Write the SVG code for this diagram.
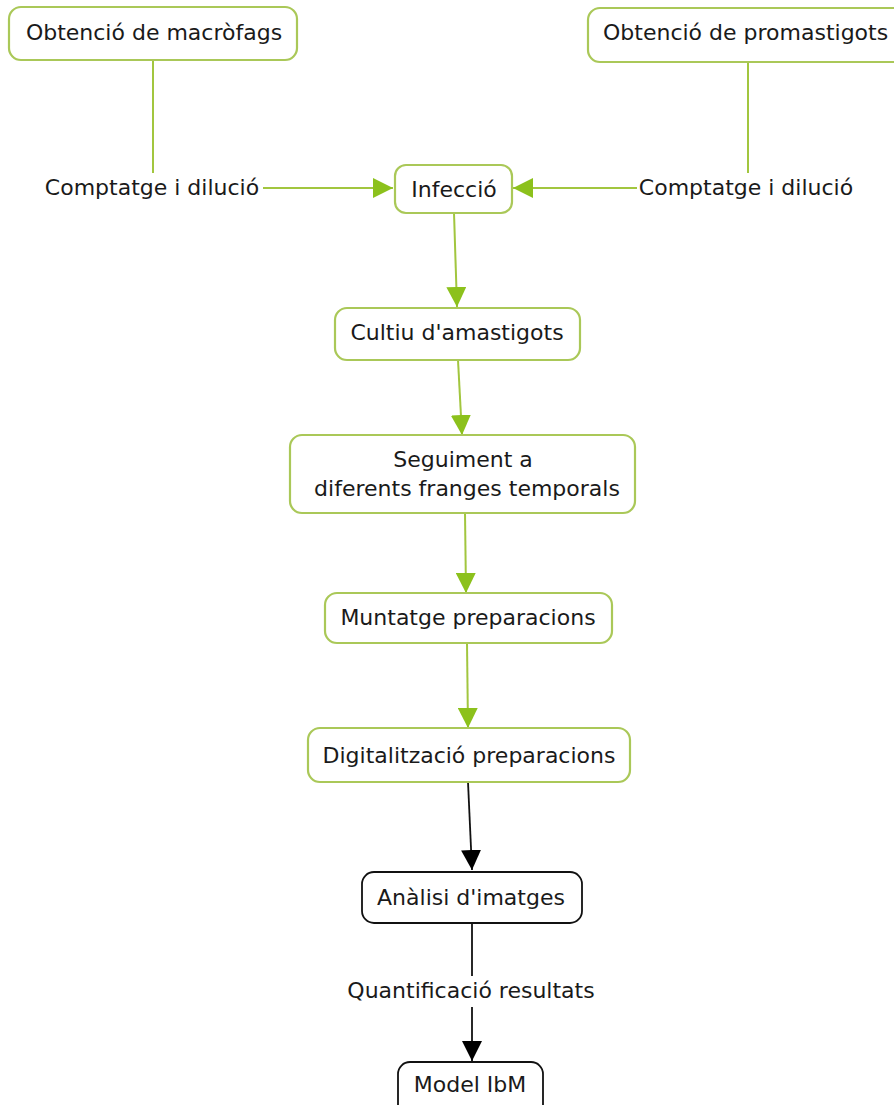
<svg xmlns="http://www.w3.org/2000/svg" width="894" height="1105" viewBox="0 0 894 1105">
<style>
.g rect{fill:#fff;stroke:#aac858;stroke-width:2.2}
.b rect{fill:#fff;stroke:#111;stroke-width:1.8}
text{font-family:"DejaVu Sans",Verdana,sans-serif;font-size:22px;fill:#1a1a1a}
.c{text-anchor:middle}
.gl{stroke:#a2c63f;stroke-width:2;fill:none}
.bl{stroke:#111;stroke-width:1.8;fill:none}
</style>
<defs>
<marker id="ag" markerUnits="userSpaceOnUse" markerWidth="20" markerHeight="20" viewBox="0 0 20 20" refX="20" refY="10" orient="auto">
<path d="M0,0 L20,10 L0,20 z" fill="#8cc11c"/>
</marker>
<marker id="ab" markerUnits="userSpaceOnUse" markerWidth="20" markerHeight="20" viewBox="0 0 20 20" refX="20" refY="10" orient="auto">
<path d="M0,0 L20,10 L0,20 z" fill="#000"/>
</marker>
</defs>
<rect width="894" height="1105" fill="#fff"/>
<g id="connectors">
<line class="gl" x1="153" y1="60" x2="153" y2="173"/>
<line class="gl" x1="748" y1="62" x2="748" y2="173"/>
<line class="gl" x1="263" y1="188" x2="393" y2="188" marker-end="url(#ag)"/>
<line class="gl" x1="637" y1="188" x2="513" y2="188" marker-end="url(#ag)"/>
<line class="gl" x1="454" y1="213" x2="457" y2="307" marker-end="url(#ag)"/>
<line class="gl" x1="458" y1="360" x2="462" y2="435" marker-end="url(#ag)"/>
<line class="gl" x1="465" y1="513" x2="466" y2="593" marker-end="url(#ag)"/>
<line class="gl" x1="467" y1="643" x2="468" y2="728" marker-end="url(#ag)"/>
<line class="bl" x1="468" y1="782" x2="472" y2="870" marker-end="url(#ab)"/>
<line class="bl" x1="472" y1="923" x2="472" y2="976"/>
<line class="bl" x1="472" y1="1007" x2="472" y2="1061" marker-end="url(#ab)"/>
<text class="c" x="152" y="195">Comptatge i dilució</text>
<text class="c" x="746" y="195">Comptatge i dilució</text>
<text class="c" x="471" y="998">Quantificació resultats</text>
</g>
<g id="n1" class="g"><rect x="9" y="7" width="288" height="53" rx="12"/><text class="c" x="154" y="40">Obtenció de macròfags</text></g>
<g id="n2" class="g"><rect x="588" y="8" width="320" height="54" rx="12"/><text x="603" y="40">Obtenció de promastigots</text></g>
<g id="n3" class="g"><rect x="395" y="165" width="117" height="48" rx="11"/><text class="c" x="454" y="197">Infecció</text></g>
<g id="n4" class="g"><rect x="335" y="308" width="245" height="52" rx="12"/><text class="c" x="457" y="340">Cultiu d'amastigots</text></g>
<g id="n5" class="g"><rect x="290" y="435" width="345" height="78" rx="12"/><text class="c" x="463" y="467">Seguiment a</text><text class="c" x="467" y="496">diferents franges temporals</text></g>
<g id="n6" class="g"><rect x="325" y="593" width="287" height="50" rx="12"/><text class="c" x="468" y="625">Muntatge preparacions</text></g>
<g id="n7" class="g"><rect x="308" y="728" width="322" height="54" rx="12"/><text class="c" x="469" y="763">Digitalització preparacions</text></g>
<g id="n8" class="b"><rect x="362" y="872" width="220" height="51" rx="12"/><text class="c" x="471" y="905">Anàlisi d'imatges</text></g>
<g id="n9" class="b"><rect x="398" y="1062" width="145" height="60" rx="12"/><text class="c" x="470" y="1092">Model IbM</text></g>
</svg>
